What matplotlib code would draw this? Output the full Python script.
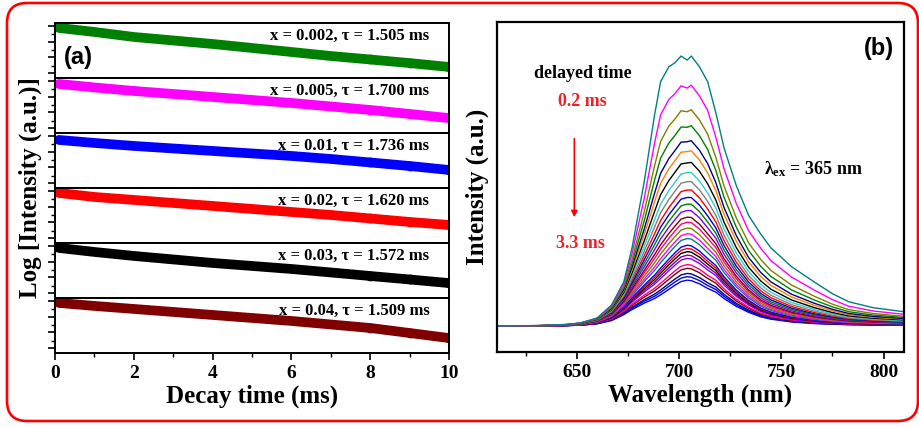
import matplotlib
matplotlib.use("Agg")
from matplotlib import pyplot as plt
from matplotlib.patches import FancyBboxPatch
from matplotlib.ticker import LogLocator, NullFormatter, MultipleLocator
import numpy as np

plt.rcParams['font.family'] = ['Liberation Serif', 'DejaVu Serif']
plt.rcParams['font.weight'] = 'bold'
plt.rcParams['mathtext.fontset'] = 'custom'
plt.rcParams['mathtext.rm'] = 'Liberation Serif:bold'
plt.rcParams['mathtext.it'] = 'Liberation Serif:bold:italic'
plt.rcParams['mathtext.bf'] = 'Liberation Serif:bold'

# ---- panel (a): decay curves ----
t = [0.1, 1, 2, 3, 4, 5, 6, 7, 8, 9, 10]
decay_green = [7310, 4070, 1970, 1180, 710, 396, 221, 123, 74, 44, 25]
decay_magenta = [6310, 3790, 2280, 1470, 950, 614, 396, 238, 143, 80, 44]
decay_blue = [5460, 3530, 2280, 1580, 1100, 764, 530, 342, 206, 123, 69]
decay_red = [7310, 4070, 2640, 1700, 1100, 710, 458, 296, 178, 107, 69]
decay_black = [7310, 4070, 2280, 1370, 820, 530, 342, 206, 123, 74, 44]
decay_brown = [7310, 4720, 3050, 1970, 1270, 820, 530, 318, 191, 92, 44]
decays = [decay_green, decay_magenta, decay_blue, decay_red, decay_black, decay_brown]
decay_colors = ['#008000', '#FF00FF', '#0000FF', '#FF0000', '#000000', '#800000']
decay_labels = ['x = 0.002, τ = 1.505 ms', 'x = 0.005, τ = 1.700 ms',
                'x = 0.01, τ = 1.736 ms', 'x = 0.02, τ = 1.620 ms',
                'x = 0.03, τ = 1.572 ms', 'x = 0.04, τ = 1.509 ms']

# ---- panel (b): delayed spectra ----
wl = [611, 630, 645, 652, 660, 667, 673, 677, 683, 688, 691, 695, 698, 701, 704,
      706, 710, 714, 718, 722, 728, 734, 740, 745, 755, 766, 775, 783, 795, 810]
profile_top = [0, 0.002, 0.006, 0.012, 0.03, 0.078, 0.164, 0.289, 0.535, 0.78, 0.905,
               0.96, 0.975, 1.0, 0.985, 1.0, 0.96, 0.905, 0.79, 0.66, 0.52, 0.41, 0.34,
               0.289, 0.22, 0.164, 0.12, 0.09, 0.068, 0.053]
profile_bottom = [0, 0.0, 0.01, 0.02, 0.05, 0.12, 0.25, 0.36, 0.5, 0.6, 0.68, 0.8, 0.89,
                  0.97, 1.0, 0.99, 0.92, 0.82, 0.74, 0.6, 0.43, 0.3, 0.2, 0.15, 0.09,
                  0.055, 0.04, 0.03, 0.025, 0.02]
peaks = [1.0, 0.893, 0.803, 0.744, 0.689, 0.652, 0.609, 0.572, 0.538, 0.507, 0.479,
         0.454, 0.430, 0.405, 0.386, 0.364, 0.343, 0.325, 0.300, 0.288, 0.276, 0.263,
         0.251, 0.228, 0.214, 0.195, 0.183, 0.170]
spec_colors = ['#008080', '#FF00FF', '#808000', '#008000', '#000080', '#FF8000', '#000000',
               '#33CCCC', '#808080', '#FF0000', '#0000CD', '#008000', '#8000FF', '#800000',
               '#FF0080', '#808000', '#FF00FF', '#008080', '#0000FF', '#FF0000', '#000000',
               '#800080', '#8000FF', '#FF0080', '#800000', '#000080', '#0000FF', '#0000FF']

fig = plt.figure(figsize=(9.2, 4.28), dpi=100)

# red rounded frame
frame = FancyBboxPatch((0.07, 0.07), 9.11, 4.18, boxstyle="round,pad=0,rounding_size=0.2",
                       transform=fig.dpi_scale_trans, fill=False, ec='#FF0000', lw=1.9)
fig.patches.append(frame)

left, width = 55 / 920, 394 / 920
top, bottom = 1 - 23 / 428, 1 - 353 / 428
h = (top - bottom) / 6
axs = []
for i in range(6):
    ax = fig.add_axes([left, top - (i + 1) * h, width, h])
    ax.plot(t, decays[i], '-', color=decay_colors[i], lw=7, solid_capstyle='round')
    ax.plot(t[-3:], decays[i][-3:], 'o', mfc='none', mec=decay_colors[i], ms=6, mew=1)
    ax.set_yscale('log')
    ax.set_ylim(5, 15000)
    ax.set_xlim(0, 10)
    ax.yaxis.set_major_locator(LogLocator(base=10, numticks=10))
    ax.yaxis.set_minor_locator(LogLocator(base=10, subs=(3.0,), numticks=10))
    ax.yaxis.set_major_formatter(NullFormatter())
    ax.yaxis.set_minor_formatter(NullFormatter())
    ax.xaxis.set_major_locator(MultipleLocator(2))
    ax.xaxis.set_minor_locator(MultipleLocator(1))
    ax.tick_params(which='major', direction='out', length=5, width=1.2)
    ax.tick_params(which='minor', direction='out', length=3, width=1)
    for s in ax.spines.values():
        s.set_linewidth(1.4)
    ax.text(0.95, 0.76, decay_labels[i], transform=ax.transAxes, ha='right', va='center',
            fontsize=12, fontweight='bold')
    if i < 5:
        ax.tick_params(axis='x', which='both', labelbottom=False, length=0)
    axs.append(ax)

axs[0].text(0.022, 0.38, '(a)', transform=axs[0].transAxes, ha='left', va='center',
            fontsize=17, fontweight='bold', family=['Liberation Sans', 'DejaVu Sans'])
axs[-1].tick_params(axis='x', labelsize=14)
axs[-1].set_xlabel('Decay time (ms)', fontsize=18, fontweight='bold', labelpad=2)
fig.text(0.033, (top + bottom) / 2, 'Log [Intensity (a.u.)]', rotation=90, ha='center',
         va='center', fontsize=18, fontweight='bold')

# ---- panel (b) ----
axb = fig.add_axes([497 / 920, 1 - 352 / 428, 407 / 920, 330 / 428])
pmax, pmin = max(peaks), min(peaks)
top_arr = np.array(profile_top)
bot_arr = np.array(profile_bottom)
for pk, c in zip(peaks[::-1], spec_colors[::-1]):
    w = (pk - pmin) / (pmax - pmin)
    axb.plot(wl, pk * (w * top_arr + (1 - w) * bot_arr), color=c, lw=1.0)
axb.set_xlim(611, 810)
axb.set_ylim(-0.096, 1.126)
axb.set_yticks([])
axb.xaxis.set_major_locator(MultipleLocator(50))
axb.xaxis.set_minor_locator(MultipleLocator(25))
axb.tick_params(which='major', direction='out', length=5, width=1.2, labelsize=14)
axb.tick_params(which='minor', direction='out', length=3, width=1)
for s in axb.spines.values():
    s.set_linewidth(1.6)
axb.set_xlabel('Wavelength (nm)', fontsize=18, fontweight='bold', labelpad=2)
axb.set_ylabel('Intensity (a.u.)', fontsize=18, fontweight='bold', labelpad=6)
axb.text(0.975, 0.92, '(b)', transform=axb.transAxes, ha='right', va='center',
         fontsize=17, fontweight='bold', family=['Liberation Sans', 'DejaVu Sans'])
axb.text(0.21, 0.845, 'delayed time', transform=axb.transAxes, ha='center', va='center',
         fontsize=13, fontweight='bold')
axb.text(0.21, 0.76, '0.2 ms', transform=axb.transAxes, ha='center', va='center',
         fontsize=13, fontweight='bold', color='#E8242A')
axb.text(0.205, 0.33, '3.3 ms', transform=axb.transAxes, ha='center', va='center',
         fontsize=13, fontweight='bold', color='#E8242A')
axb.annotate('', xy=(0.19, 0.4), xytext=(0.19, 0.655), xycoords='axes fraction',
             arrowprops=dict(arrowstyle='-|>', color='#FF0000', lw=1.2, mutation_scale=9))
axb.text(0.655, 0.555, 'λ$_{\\rm ex}$ = 365 nm', transform=axb.transAxes, ha='left',
         va='center', fontsize=13, fontweight='bold')

fig.savefig('out.png', dpi=100)
